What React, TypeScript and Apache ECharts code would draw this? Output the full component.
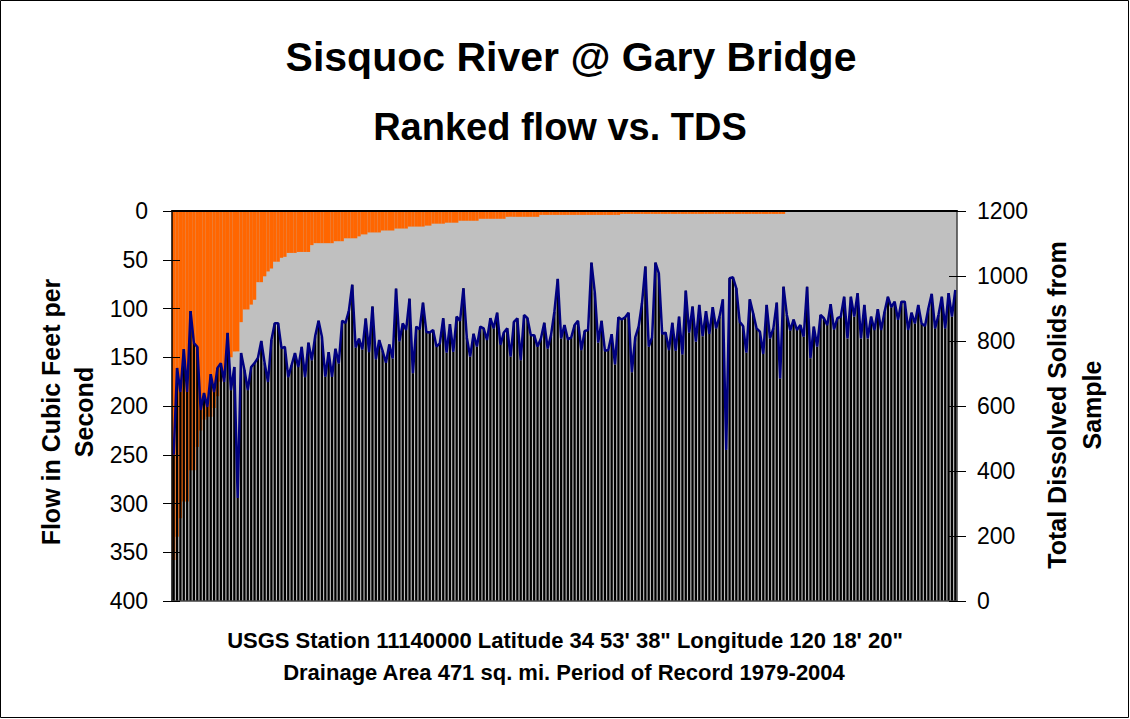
import React, { useEffect, useRef } from "react";
import * as echarts from "echarts";

// Ranked daily flow (cfs), highest first
const flow = [
  358, 334, 315, 298, 298, 266, 266, 242, 225, 214,
  211, 211, 202, 190, 175, 171, 150, 150, 144, 144,
  114, 101, 101, 96, 91, 73, 73, 67, 62, 59,
  52, 52, 48, 47, 43, 43, 43, 42, 42, 42,
  42, 35, 33, 33, 33, 33, 33, 33, 31, 31,
  31, 28, 28, 28, 28, 26, 24, 24, 22, 22,
  22, 22, 20, 20, 20, 20, 18, 18, 18, 18,
  16, 16, 16, 16, 16, 15, 15, 13, 13, 13,
  13, 12, 12, 12, 12, 10, 10, 10, 10, 10,
  10, 8, 8, 8, 8, 8, 8, 8, 8, 6,
  6, 6, 6, 6, 6, 6, 6, 6, 6, 4,
  4, 4, 4, 4, 4, 4, 4, 4, 4, 4,
  4, 4, 4, 4, 4, 4, 4, 4, 4, 4,
  4, 4, 4, 3, 3, 3, 3, 3, 3, 3,
  3, 3, 3, 3, 3, 3, 3, 3, 3, 3,
  3, 3, 3, 3, 3, 3, 3, 3, 3, 3,
  3, 3, 3, 3, 3, 3, 3, 3, 3, 3,
  3, 3, 3, 3, 3, 3, 3, 3, 3, 3,
  3, 3, 0, 0, 0, 0, 0, 0, 0, 0,
  0, 0, 0, 0, 0, 0, 0, 0, 0, 0,
  0, 0, 0, 0, 0, 0, 0, 0, 0, 0,
  0, 0, 0, 0, 0, 0, 0, 0, 0, 0,
  0, 0, 0, 0, 0, 0, 0, 0, 0, 0,
  0, 0, 0,
];

// Total dissolved solids of the sample on each ranked day (mg/L)
const tds = [
  450, 717, 643, 775, 643, 892, 794, 782, 588, 640,
  597, 698, 643, 717, 732, 674, 825, 649, 720, 317,
  763, 711, 649, 720, 732, 748, 800, 732, 674, 803,
  855, 855, 778, 782, 689, 726, 763, 720, 782, 689,
  795, 741, 815, 862, 813, 690, 766, 690, 776, 731,
  862, 856, 893, 973, 780, 807, 774, 869, 766, 906,
  744, 803, 770, 733, 789, 746, 961, 799, 854, 834,
  930, 701, 844, 836, 918, 828, 826, 834,
  783, 793, 870, 764, 852, 767, 875, 862, 962, 811,
  752, 822, 783, 844, 839, 803, 870, 839, 887, 788,
  826, 839, 752, 859, 870, 741, 880, 870, 818, 818,
  783, 808, 856, 777, 818, 890, 991, 808,
  849, 805, 811, 849, 862, 772, 831, 834, 1041, 949,
  795, 862, 770, 772, 821, 728, 873, 866, 873, 887,
  704, 811, 844, 916, 1029, 783, 811, 1041, 1008, 822,
  826, 772, 856, 770, 875, 759, 955, 826, 906,
  798, 911, 815, 892, 822, 904, 839, 875, 928, 465,
  993, 996, 962, 859, 846, 764, 928, 885, 839, 829,
  760, 911, 808, 839, 918, 685, 967, 880, 833, 866,
  834, 849, 813, 967, 747, 844, 783, 880, 870, 849,
  913, 836,
  870, 875, 936, 808, 936, 875, 947, 808, 911, 808,
  875, 834, 898, 834, 890, 936, 904, 921, 865, 921,
  921, 834, 887, 854, 911, 854, 846, 900, 945, 839,
  880, 936, 839, 947, 875, 957,
];

const ranks = tds.map((_, i) => String(i + 1));

const titleText = "Sisquoc River @ Gary Bridge";
const subtitleText = "Ranked flow vs. TDS";
const leftAxisTitle = "Flow in Cubic Feet per\nSecond";
const rightAxisTitle = "Total Dissolved Solids from\nSample";
const noteLine1 = "USGS Station 11140000 Latitude 34 53' 38\" Longitude 120 18' 20\"";
const noteLine2 = "Drainage Area 471 sq. mi. Period of Record 1979-2004";

const FONT = '"Liberation Sans", Arial, sans-serif';

export default function App() {
  const ref = useRef<HTMLDivElement>(null);

  useEffect(() => {
    const chart = echarts.init(ref.current!, null, { renderer: "svg" });
    const labelStyle = {
      color: "#000",
      fontSize: 23,
      fontFamily: FONT,
      formatter: (v: number) => String(v),
    };
    chart.setOption({
      animation: false,
      backgroundColor: "#fff",
      grid: {
        left: 172,
        right: 173,
        top: 211,
        bottom: 118,
        show: true,
        backgroundColor: "#C0C0C0",
        borderWidth: 0,
      },
      xAxis: [
        {
          type: "category",
          data: ranks,
          position: "top",
          boundaryGap: true,
          axisLine: { show: true, onZero: false, lineStyle: { color: "#000", width: 2 } },
          axisTick: { show: false },
          axisLabel: { show: false },
          splitLine: { show: false },
          z: 10,
        },
        {
          type: "category",
          data: ranks,
          position: "bottom",
          boundaryGap: true,
          axisLine: { show: true, onZero: false, lineStyle: { color: "#404040", width: 1.5 } },
          axisTick: { show: false },
          axisLabel: { show: false },
          splitLine: { show: false },
          z: 10,
        },
      ],
      yAxis: [
        {
          type: "value",
          position: "left",
          inverse: true,
          min: 0,
          max: 400,
          interval: 50,
          axisLine: { show: true, lineStyle: { color: "#000", width: 1.5 } },
          axisTick: { show: true, length: 9, lineStyle: { color: "#000", width: 1 } },
          axisLabel: { ...labelStyle, margin: 24 },
          splitLine: { show: false },
          z: 10,
        },
        {
          type: "value",
          position: "right",
          min: 0,
          max: 1200,
          interval: 200,
          axisLine: { show: true, lineStyle: { color: "#404040", width: 1.5 } },
          axisTick: { show: true, length: 9, lineStyle: { color: "#000", width: 1 } },
          axisLabel: { ...labelStyle, margin: 20 },
          splitLine: { show: false },
          z: 10,
        },
        {
          type: "value",
          position: "left",
          inverse: true,
          min: 0,
          max: 400,
          interval: 50,
          axisLine: { show: false },
          axisTick: { show: true, inside: true, length: 8, lineStyle: { color: "#000", width: 1 } },
          axisLabel: { show: false },
          splitLine: { show: false },
          z: 10,
        },
        {
          type: "value",
          position: "right",
          min: 0,
          max: 1200,
          interval: 200,
          axisLine: { show: false },
          axisTick: { show: true, inside: true, length: 8, lineStyle: { color: "#000", width: 1 } },
          axisLabel: { show: false },
          splitLine: { show: false },
          z: 10,
        },
      ],
      series: [
        {
          name: "Flow",
          type: "bar",
          xAxisIndex: 0,
          yAxisIndex: 0,
          data: flow,
          barWidth: "100%",
          barCategoryGap: "0%",
          itemStyle: { color: "#FF6600" },
          z: 1,
        },
        {
          name: "TDS bars",
          type: "bar",
          xAxisIndex: 1,
          yAxisIndex: 1,
          data: tds,
          barWidth: "66%",
          itemStyle: { color: "#000" },
          z: 2,
        },
        {
          name: "TDS",
          type: "line",
          xAxisIndex: 1,
          yAxisIndex: 1,
          data: tds,
          symbol: "none",
          lineStyle: { color: "#000080", width: 2.5 },
          z: 3,
        },
      ],
      graphic: [
        {
          type: "rect",
          shape: { x: 0.5, y: 0.5, width: 1128, height: 717 },
          style: { fill: "none", stroke: "#000", lineWidth: 1 },
          silent: true,
        },
        {
          type: "text",
          x: 571,
          y: 57,
          style: {
            text: titleText,
            font: `bold 41px ${FONT}`,
            fill: "#000",
            align: "center",
            verticalAlign: "middle",
          },
        },
        {
          type: "text",
          x: 560,
          y: 127,
          style: {
            text: subtitleText,
            font: `bold 38px ${FONT}`,
            fill: "#000",
            align: "center",
            verticalAlign: "middle",
          },
        },
        {
          type: "text",
          x: 67,
          y: 412,
          rotation: Math.PI / 2,
          style: {
            text: leftAxisTitle,
            font: `bold 25px ${FONT}`,
            lineHeight: 33,
            fill: "#000",
            align: "center",
            verticalAlign: "middle",
          },
        },
        {
          type: "text",
          x: 1074,
          y: 405,
          rotation: Math.PI / 2,
          style: {
            text: rightAxisTitle,
            font: `bold 25px ${FONT}`,
            lineHeight: 35,
            fill: "#000",
            align: "center",
            verticalAlign: "middle",
          },
        },
        {
          type: "text",
          x: 565,
          y: 640,
          style: {
            text: noteLine1,
            font: `bold 22px ${FONT}`,
            fill: "#000",
            align: "center",
            verticalAlign: "middle",
          },
        },
        {
          type: "text",
          x: 564,
          y: 672,
          style: {
            text: noteLine2,
            font: `bold 22px ${FONT}`,
            fill: "#000",
            align: "center",
            verticalAlign: "middle",
          },
        },
      ],
    });
    return () => chart.dispose();
  }, []);

  return (
    <div
      ref={ref}
      style={{ position: "fixed", left: 0, top: 0, width: 1130, height: 719, background: "#fff" }}
    />
  );
}
